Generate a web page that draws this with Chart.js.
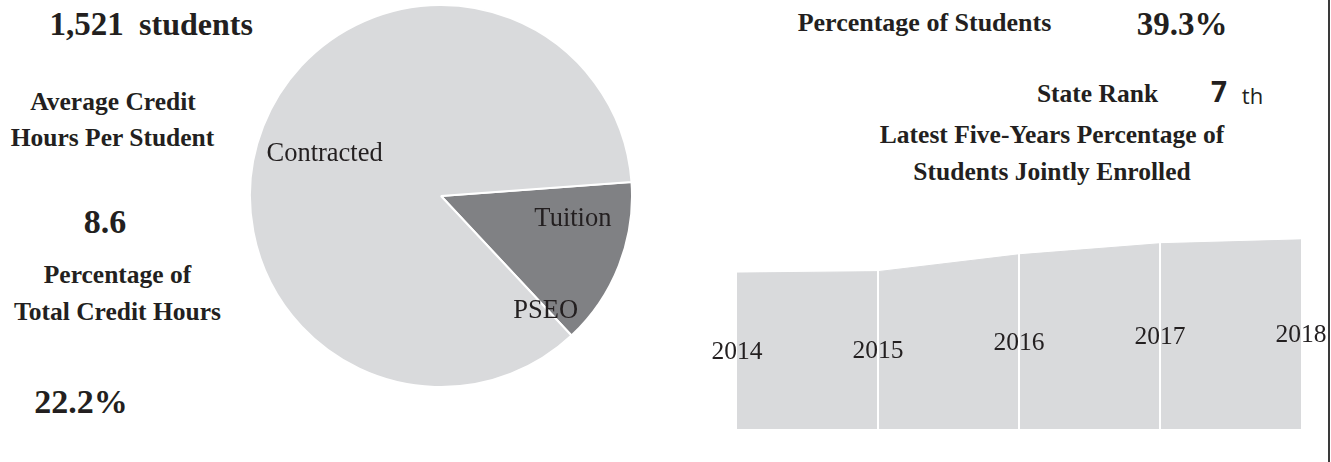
<!DOCTYPE html>
<html>
<head>
<meta charset="utf-8">
<script src="https://cdn.jsdelivr.net/npm/chart.js@4"></script>
<style>
    html, body { margin: 0; padding: 0; background: #ffffff; }
    body { width: 1331px; height: 462px; position: relative; overflow: hidden; }
    .t {
        position: absolute;
        transform: translate(-50%, -50%);
        white-space: nowrap;
        line-height: 1;
        color: #231f20;
        font-family: 'Liberation Serif', 'Times New Roman', serif;
        font-weight: bold;
        font-size: 25.5px;
    }
    .sans { font-family: 'Open Sans', 'DejaVu Sans', sans-serif; }
    #pie { position: absolute; left: 249px; top: 4px; }
    #area { position: absolute; left: 712px; top: 198px; }
    #rule { position: absolute; left: 1328px; top: 0; width: 2px; height: 462px; background: #3a3a3a; }
</style>
</head>
<body>
<div class="t" style="left:86.5px;top:24px;font-size:33px">1,521</div>
<div class="t" style="left:196px;top:24px;font-size:32px">students</div>
<div class="t" style="left:113px;top:101.5px">Average Credit</div>
<div class="t" style="left:112.5px;top:137.5px">Hours Per Student</div>
<div class="t" style="left:105px;top:221.5px;font-size:34px">8.6</div>
<div class="t" style="left:117.5px;top:275px">Percentage of</div>
<div class="t" style="left:117.5px;top:312px">Total Credit Hours</div>
<div class="t" style="left:81px;top:401.5px;font-size:34px">22.2%</div>

<div class="t" style="left:924.5px;top:22.5px;font-size:26px">Percentage of Students</div>
<div class="t" style="left:1182px;top:23.5px;font-size:33px">39.3%</div>
<div class="t" style="left:1097.5px;top:93.5px">State Rank</div>
<div class="t sans" style="left:1219px;top:91px;font-size:28px">7</div>
<div class="t sans" style="left:1252.5px;top:94.5px;font-size:22px;font-weight:normal">th</div>
<div class="t" style="left:1052px;top:134.5px">Latest Five-Years Percentage of</div>
<div class="t" style="left:1052px;top:171.5px">Students Jointly Enrolled</div>

<canvas id="pie" width="384" height="384"></canvas>
<canvas id="area" width="614" height="231"></canvas>
<div id="rule"></div>

<script>
// credit hour split (percent of total)
const pieLabels = ['Tuition', 'PSEO', 'Contracted'];
const pieValues = [14.2, 0, 85.8];

// jointly enrolled students, percent
const years = ['2014', '2015', '2016', '2017', '2018'];
const jointPct = [32.4, 32.7, 36.2, 38.5, 39.3];

const ink = '#231f20';
const lightGray = '#d9dadc';
const darkGray = '#808184';

// where each pie label sits: fraction of radius, angle shift (deg) from the slice middle
const pieLabelPlace = [
    { r: 0.70, shift: -12 },
    { r: 0.81, shift: 0.5 },
    { r: 0.65, shift: -1 }
];

const pieLabelPlugin = {
    id: 'pieLabels',
    afterDatasetsDraw(chart) {
        const ctx = chart.ctx;
        const meta = chart.getDatasetMeta(0);
        ctx.save();
        ctx.font = '26.5px "Liberation Serif", serif';
        ctx.fillStyle = ink;
        ctx.textAlign = 'center';
        ctx.textBaseline = 'middle';
        meta.data.forEach((arc, i) => {
            const p = arc.getProps(['x', 'y', 'startAngle', 'endAngle', 'outerRadius'], true);
            const place = pieLabelPlace[i];
            const mid = (p.startAngle + p.endAngle) / 2 + place.shift * Math.PI / 180;
            const r = p.outerRadius * place.r;
            ctx.fillText(chart.data.labels[i], p.x + Math.cos(mid) * r, p.y + Math.sin(mid) * r + 1);
        });
        ctx.restore();
    }
};

const yearLabelPlugin = {
    id: 'yearLabels',
    afterDraw(chart) {
        const ctx = chart.ctx;
        const meta = chart.getDatasetMeta(0);
        const bottom = chart.chartArea.bottom;
        ctx.save();
        ctx.font = '25.5px "Liberation Serif", serif';
        ctx.fillStyle = ink;
        ctx.textAlign = 'center';
        ctx.textBaseline = 'middle';
        meta.data.forEach((pt, i) => {
            ctx.fillText(chart.data.labels[i], pt.x, (pt.y + bottom) / 2 + 1);
        });
        ctx.restore();
    }
};

new Chart(document.getElementById('pie'), {
    type: 'pie',
    data: {
        labels: pieLabels,
        datasets: [{
            data: pieValues,
            backgroundColor: [darkGray, lightGray, lightGray],
            borderColor: '#ffffff',
            borderWidth: 2
        }]
    },
    options: {
        responsive: false,
        animation: false,
        rotation: 85.8,
        layout: { padding: 0 },
        plugins: { legend: { display: false }, tooltip: { enabled: false } }
    },
    plugins: [pieLabelPlugin]
});

new Chart(document.getElementById('area'), {
    type: 'line',
    data: {
        labels: years,
        datasets: [{
            data: jointPct,
            fill: 'origin',
            backgroundColor: lightGray,
            borderColor: lightGray,
            borderWidth: 1,
            pointRadius: 0,
            tension: 0
        }]
    },
    options: {
        responsive: false,
        animation: false,
        layout: { padding: { left: 25, right: 25, top: 0, bottom: 0 } },
        plugins: { legend: { display: false }, tooltip: { enabled: false } },
        scales: {
            x: {
                offset: false,
                ticks: { display: false },
                border: { display: false },
                grid: {
                    z: 1,
                    drawTicks: false,
                    lineWidth: 2,
                    color: (c) => (c.index === 0 || c.index === years.length - 1) ? 'rgba(0,0,0,0)' : '#ffffff'
                }
            },
            y: { display: false, min: 0, max: 48 }
        }
    },
    plugins: [yearLabelPlugin]
});
</script>
</body>
</html>
